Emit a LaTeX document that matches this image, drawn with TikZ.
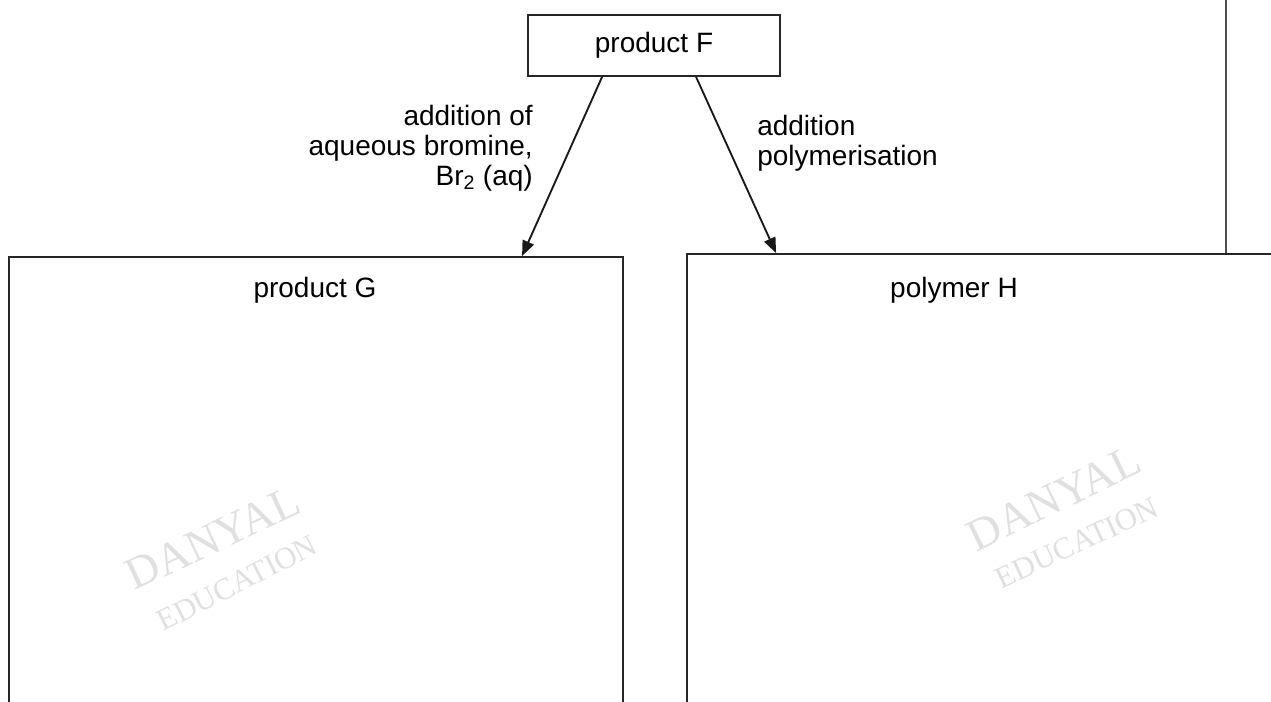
\documentclass[tikz,border=0pt]{standalone}
\usepackage{fontspec}
\setmainfont{Liberation Sans}
\newfontfamily\wmfont{Liberation Serif}
\usetikzlibrary{arrows.meta}
\begin{document}
\begin{tikzpicture}[x=0.75pt,y=-0.75pt,
  box/.style={draw=black!85, line width=1.4pt, inner sep=0pt},
  lbl/.style={font=\fontsize{21}{22.5}\selectfont, inner sep=0pt},
  arr/.style={draw=black!90, line width=1.4pt, -{Triangle[length=11.5pt,width=9pt]}},
  plain/.style={draw=black!70, line width=1.1pt},
  wm/.style={text=black!12, inner sep=0pt, font=\wmfont}]
\useasboundingbox (0,0) rectangle (1271,701);
\clip (0,0) rectangle (1271,701);
% watermarks
\node[wm, rotate=25, font=\wmfont\fontsize{34}{34}\selectfont] (w1) at (213,538) {DANYAL};
\node[wm, rotate=27, font=\wmfont\fontsize{23}{23}\selectfont] (w2) at (237,583) {EDUCATION};
\node[wm, rotate=26, font=\wmfont\fontsize{34}{34}\selectfont] (w3) at (1054,498) {DANYAL};
\node[wm, rotate=25, font=\wmfont\fontsize{23}{23}\selectfont] (w4) at (1077,543) {EDUCATION};
% boxes
\node[box, lbl, minimum width=189pt, minimum height=45.75pt] (F) at (654,45.5) {product F};
\node[box, minimum width=460.5pt, minimum height=377.25pt] (G) at (316,508.5) {};
\node[lbl, anchor=base] (Gt) at (315,297) {product G};
\node[box, minimum width=459.75pt, minimum height=379.5pt] (H) at (993.5,507) {};
\node[lbl, anchor=base] (Ht) at (954,297) {polymer H};
% vertical line at right
\coordinate (vt) at (1226,-5);
\draw[plain] (vt) -- (vt |- H.north);
% arrows
\draw[arr] ([xshift=56.25pt]F.south west) -- ([xshift=385.5pt]G.north west);
\draw[arr] ([xshift=126.75pt]F.south west) -- ([xshift=67.5pt]H.north west);
% labels
\node[lbl, align=right, anchor=base east] (L1) at (533,185) {addition of\\aqueous bromine,\\Br\textsubscript{2} (aq)};
\node[lbl, align=left, anchor=base west] (L2) at (757,165) {addition\\polymerisation};
\end{tikzpicture}
\end{document}
